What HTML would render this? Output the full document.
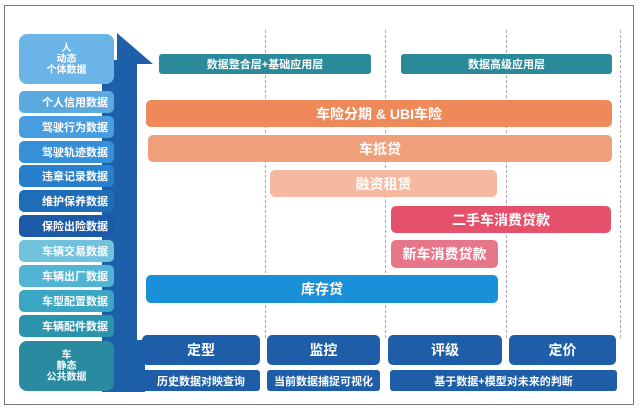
<!DOCTYPE html>
<html><head><meta charset="utf-8"><style>
body{margin:0;width:640px;height:410px;background:#fff;position:relative;overflow:hidden;font-family:"Liberation Sans","Noto Sans CJK SC",sans-serif;}
div{position:absolute;box-sizing:border-box;}
.b{color:#fff;font-weight:bold;display:flex;align-items:center;justify-content:center;border-radius:5px;text-align:center;white-space:nowrap;}
.s{left:19px;width:95px;height:22px;font-size:11px;justify-content:flex-end;padding-right:6px;border-radius:5px;}
.d{width:0;border-left:1px dashed #aaa;top:30px;height:308px;}
</style></head><body>
<div style="left:4px;top:5px;width:630px;height:400px;border:1px solid #777;"></div>
<div class="d" style="left:265px"></div>
<div class="d" style="left:385px"></div>
<div class="d" style="left:506px"></div>
<div class="d" style="left:620px"></div>
<div style="left:102px;top:60px;width:35px;height:332px;background:#1d5fa8;"></div>
<div style="left:137px;top:340px;width:8px;height:52px;background:#1d5fa8;"></div>
<svg style="position:absolute;left:0;top:0" width="640" height="410"><polygon points="117,33 153,64 117,64" fill="#1d5fa8"/><rect x="117" y="50" width="20" height="20" fill="#1d5fa8"/></svg>
<div class="b" style="left:19px;top:34px;width:95px;height:50px;background:#6bb4e8;font-size:10px;line-height:11px;border-radius:8px;">人<br>动态<br>个体数据</div>
<div class="b s" style="top:91px;background:#5ca9e0">个人信用数据</div>
<div class="b s" style="top:116px;background:#479de0">驾驶行为数据</div>
<div class="b s" style="top:141px;background:#3690d8">驾驶轨迹数据</div>
<div class="b s" style="top:165px;background:#2880cc">违章记录数据</div>
<div class="b s" style="top:190px;background:#1f6cb8">维护保养数据</div>
<div class="b s" style="top:215px;background:#1a5aa6">保险出险数据</div>
<div class="b s" style="top:240px;background:#72c2de">车辆交易数据</div>
<div class="b s" style="top:265px;background:#52b4d4">车辆出厂数据</div>
<div class="b s" style="top:290px;background:#3aa6c4">车型配置数据</div>
<div class="b s" style="top:315px;background:#2b94ad">车辆配件数据</div>
<div class="b" style="left:19px;top:341px;width:95px;height:50px;background:#2a8aa0;font-size:10px;line-height:11px;border-radius:8px;">车<br>静态<br>公共数据</div>
<div class="b" style="left:159px;top:54px;width:212px;height:20px;background:#2a8a9a;font-size:11px;border-radius:3px;">数据整合层+基础应用层</div>
<div class="b" style="left:401px;top:54px;width:211px;height:20px;background:#2a8a9a;font-size:11px;border-radius:3px;">数据高级应用层</div>
<div class="b" style="left:146px;top:100px;width:466px;height:27px;background:#ee8a5a;font-size:14px;">车险分期 &amp; UBI车险</div>
<div class="b" style="left:148px;top:135px;width:464px;height:27px;background:#f09f7b;font-size:14px;">车抵贷</div>
<div class="b" style="left:270px;top:170px;width:227px;height:27px;background:#f5b9a2;font-size:14px;">融资租赁</div>
<div class="b" style="left:391px;top:206px;width:220px;height:27px;background:#e5506a;font-size:14px;">二手车消费贷款</div>
<div class="b" style="left:391px;top:240px;width:107px;height:28px;background:#e87689;font-size:14px;">新车消费贷款</div>
<div class="b" style="left:146px;top:275px;width:352px;height:28px;background:#1a90d8;font-size:14px;">库存贷</div>
<div class="b" style="left:142px;top:335px;width:118px;height:30px;background:#1e5ea8;font-size:14px;">定型</div>
<div class="b" style="left:267px;top:335px;width:113px;height:30px;background:#1e5ea8;font-size:14px;">监控</div>
<div class="b" style="left:388px;top:335px;width:114px;height:30px;background:#1e5ea8;font-size:14px;">评级</div>
<div class="b" style="left:509px;top:335px;width:107px;height:30px;background:#1e5ea8;font-size:14px;">定价</div>
<div class="b" style="left:142px;top:370px;width:118px;height:21px;background:#1e5ea8;font-size:11px;border-radius:3px;">历史数据对映查询</div>
<div class="b" style="left:267px;top:370px;width:113px;height:21px;background:#1e5ea8;font-size:11px;border-radius:3px;">当前数据捕捉可视化</div>
<div class="b" style="left:390px;top:370px;width:227px;height:21px;background:#1e5ea8;font-size:11px;border-radius:3px;">基于数据+模型对未来的判断</div>
</body></html>
